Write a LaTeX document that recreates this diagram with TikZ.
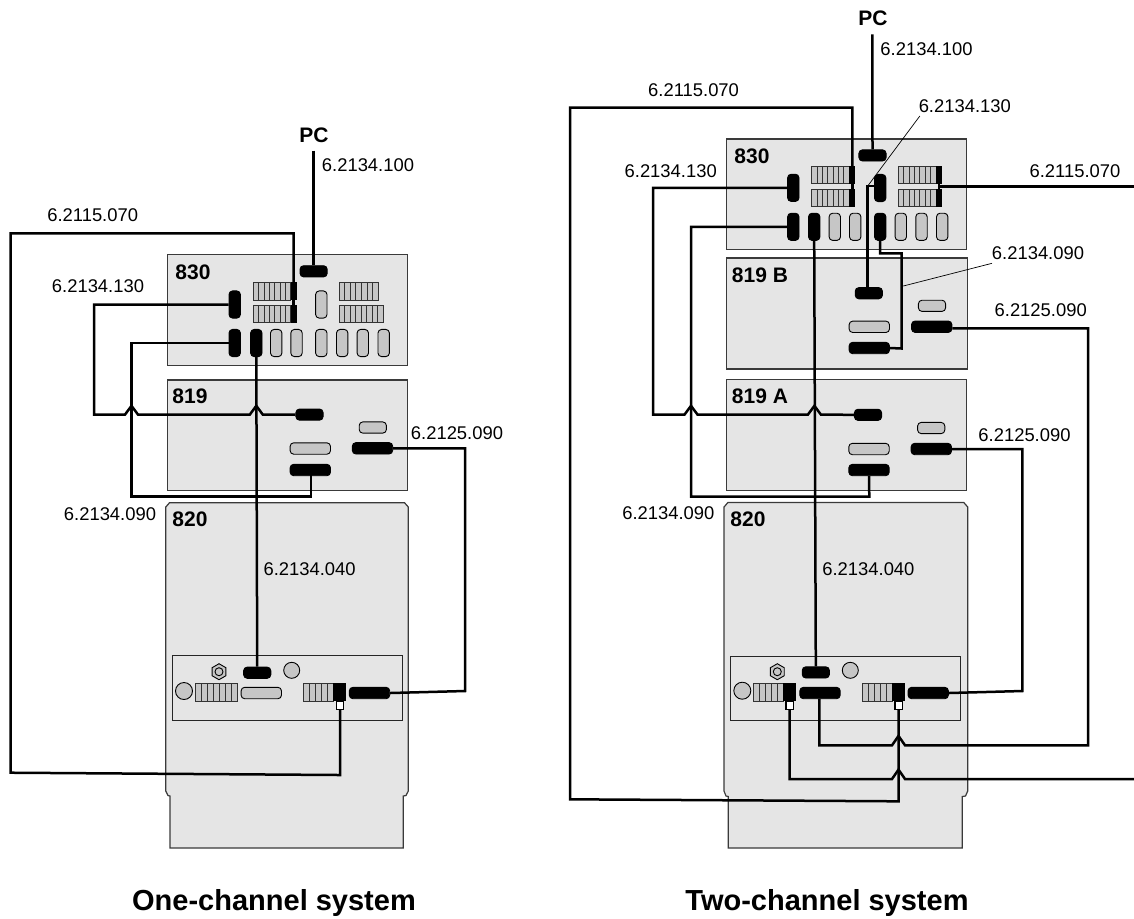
\documentclass[tikz,border=0pt]{standalone}
\usepackage{fontspec}
\setmainfont{Liberation Sans}
\usetikzlibrary{calc,shapes.geometric}
\definecolor{unitgray}{HTML}{E5E5E5}
\definecolor{portgray}{HTML}{C6C6C6}
\definecolor{edgegray}{HTML}{3A3A3A}
\tikzset{
    unitbox/.style={draw=edgegray, line width=0.6pt, fill=unitgray, inner sep=0pt},
    rearpanel/.style={draw=black!85, line width=0.5pt, inner sep=0pt},
    greyport/.style={draw=black, line width=0.45pt, fill=portgray, rounded corners=1.8pt, inner sep=0pt},
    blackport/.style={draw=black, line width=0.45pt, fill=black, rounded corners=1.8pt, inner sep=0pt},
    vport/.style={minimum width=5.7pt, minimum height=13.6pt},
    hport/.style={minimum width=13.6pt, minimum height=5.6pt},
    wport/.style={minimum width=20.2pt, minimum height=5.7pt},
    strip/.style={draw=black!80, line width=0.45pt, fill=portgray, inner sep=0pt, minimum height=8.75pt,
        path picture={
            \foreach \k in {1,...,#1}
                \draw[line width=0.45pt] ($(path picture bounding box.south west)!\k/#1!(path picture bounding box.south east)$)
                    -- ($(path picture bounding box.north west)!\k/#1!(path picture bounding box.north east)$);
        }},
    plug/.style={fill=black, inner sep=0pt, minimum height=8.75pt},
    tailplug/.style={draw=black, line width=0.7pt, fill=white, inner sep=0pt, minimum width=3.6pt, minimum height=4pt},
    knob/.style={circle, draw=black, line width=0.45pt, fill=portgray, inner sep=0pt},
    nut/.style={regular polygon, regular polygon sides=6, shape border rotate=30, draw=black, line width=0.45pt, fill=portgray, inner sep=0pt, minimum size=8pt},
    cable/.style={line width=1.25pt},
    leader/.style={line width=0.35pt},
    partno/.style={inner sep=0pt, font=\fontsize{9.2}{11}\selectfont},
    unitname/.style={inner sep=0pt, font=\fontsize{10.5}{12}\selectfont\bfseries},
    caption/.style={inner sep=0pt, anchor=base, font=\fontsize{14.5}{17}\selectfont\bfseries}
}
\begin{document}
\begin{tikzpicture}[x=0.5pt, y=-0.5pt]
    \useasboundingbox (0,0) rectangle (1134,918);

    % One-channel system: units
    \node[unitbox, minimum width=120.1pt, minimum height=55.5pt] (a830) at (287.6,310.2) {};
    \node[unitbox, minimum width=120.1pt, minimum height=55.4pt] (a819) at (287.6,435.4) {};
    \draw[edgegray, line width=0.6pt, fill=unitgray] (170,848) -- (170,796) -- (168,795.5) -- (165.8,791) -- (165.8,507)
        -- (169.5,502.7) -- (404.5,502.7) -- (408.3,507) -- (408.3,791) -- (406,795.5) -- (403.3,796) -- (403.3,848) -- cycle;
    \node[rearpanel, minimum width=115.1pt, minimum height=32.5pt] (a820) at (287.2,688.2) {};
    \node[unitname] (a830name) at (193,272) {830};
    \node[unitname] (a819name) at (190,396) {819};
    \node[unitname] (a820name) at (190,519) {820};

    % One-channel system: 830
    \node[blackport, hport] (apc) at (313.6,271.3) {};
    \node[strip=7, minimum width=18.7pt] (astrip1) at (272,291.2) {};
    \node[strip=7, minimum width=18.7pt] (astrip2) at (272,314) {};
    \node[strip=7, minimum width=19.3pt] (astrip3) at (358.7,291.2) {};
    \node[strip=8, minimum width=22pt] (astrip4) at (361.3,314) {};
    \node[plug, minimum width=3pt] (aplug1) at (293.7,291.2) {};
    \node[plug, minimum width=3pt] (aplug2) at (293.7,314) {};
    \node[blackport, vport] (av1) at (234.7,304.5) {};
    \node[blackport, vport] (av2) at (234.7,343) {};
    \node[blackport, vport] (av3) at (256.3,343) {};
    \node[greyport, vport] (av4) at (321.3,304.5) {};
    \node[greyport, vport] (av5) at (276.2,343) {};
    \node[greyport, vport] (av6) at (296.5,343) {};
    \node[greyport, vport] (av7) at (321.3,343) {};
    \node[greyport, vport] (av8) at (342.2,343) {};
    \node[greyport, vport] (av9) at (362.8,343) {};
    \node[greyport, vport] (av10) at (383.7,343) {};

    % One-channel system: 819
    \node[blackport, hport] (ah1) at (309.5,414.6) {};
    \node[greyport, hport] (ah2) at (372.8,427.5) {};
    \node[greyport, wport] (aw1) at (310.3,448.5) {};
    \node[blackport, wport] (aw2) at (310.3,470) {};
    \node[blackport, wport] (aw3) at (372.5,448.3) {};

    % One-channel system: 820
    \node[nut] (anut) at (219,671.7) {};
    \node[knob, minimum size=4pt] (anutc) at (219,671.7) {};
    \node[knob, minimum size=8pt] (aknob1) at (291.7,670.3) {};
    \node[knob, minimum size=8.5pt] (aknob2) at (184,691) {};
    \node[strip=7, minimum width=21.1pt, minimum height=9pt] (astrip5) at (216.1,692.5) {};
    \node[strip=5, minimum width=15pt, minimum height=9pt] (astrip6) at (318.3,692.3) {};
    \node[plug, minimum width=6.4pt, minimum height=9pt] (aplug3) at (339.7,692.3) {};
    \node[tailplug] (atail) at (340,705.3) {};
    \node[blackport, hport] (ah3) at (257.2,672.7) {};
    \node[greyport, wport] (aw4) at (261.3,693) {};
    \node[blackport, wport] (aw5) at (369.5,693) {};

    % One-channel system: labels
    \node[partno, font=\fontsize{10.5}{12}\selectfont\bfseries] (apclabel) at (314,135) {PC};
    \node[partno] (alabel1) at (368,165) {6.2134.100};
    \node[partno] (alabel2) at (92.7,215) {6.2115.070};
    \node[partno] (alabel3) at (98,286) {6.2134.130};
    \node[partno] (alabel4) at (457,433) {6.2125.090};
    \node[partno] (alabel5) at (110,514) {6.2134.090};
    \node[partno] (alabel6) at (309.6,569) {6.2134.040};
    \node[caption] (acaption) at (274,910) {One-channel system};

    % One-channel system: cables
    \coordinate (apctop) at (313.6,150.7);
    \draw[cable] (apctop) -- (apc.north);
    \draw[cable] (aplug1.north) -- (293.7,233.3) -- (10.5,233.3) -- (10.5,772.7) -- (340,775) -- (atail.south);
    \draw[cable] (aplug1.south) -- (aplug2.north);
    \draw[cable] (av1.west) -- (94,304.5) -- (94,414.6) -- (125,414.6) -- ++(6.5,-8.8) -- ++(6.5,8.8)
        -- (249.8,414.6) -- ++(6.5,-8.8) -- ++(6.5,8.8) -- (ah1.west);
    \draw[cable] (av2.west) -- (131.5,343) -- (131.5,496.7) -- (311,496.7) -- (311,470);
    \draw[cable] (av3.south) -- (ah3.north);
    \draw[cable] (aw3.east) -- (465,448.3) -- (465,691) -- (aw5.east);

    % Two-channel system: units
    \node[unitbox, minimum width=120.3pt, minimum height=55.4pt] (b830) at (846.4,194.4) {};
    \node[unitbox, minimum width=120.3pt, minimum height=55.5pt] (b819b) at (847,313.5) {};
    \node[unitbox, minimum width=120.3pt, minimum height=55.5pt] (b819a) at (846.4,435.2) {};
    \draw[edgegray, line width=0.6pt, fill=unitgray] (728.3,848) -- (728.3,796.5) -- (726,796) -- (724,791) -- (724,507)
        -- (728,502.4) -- (963.7,502.4) -- (967.7,507) -- (967.7,791) -- (965.5,796) -- (962.3,796.5) -- (962.3,848) -- cycle;
    \node[rearpanel, minimum width=115pt, minimum height=32pt] (b820) at (845.7,688.3) {};
    \node[unitname] (b830name) at (752,156) {830};
    \node[unitname] (b819bname) at (760,275) {819 B};
    \node[unitname] (b819aname) at (760,396) {819 A};
    \node[unitname] (b820name) at (748,519) {820};

    % Two-channel system: 830
    \node[blackport, hport] (bpc) at (872.5,155.4) {};
    \node[strip=7, minimum width=18.8pt] (bstrip1) at (830.5,175) {};
    \node[strip=7, minimum width=18.8pt] (bstrip2) at (830.5,198) {};
    \node[strip=7, minimum width=18.8pt] (bstrip3) at (917.2,175) {};
    \node[strip=7, minimum width=18.8pt] (bstrip4) at (917.2,198) {};
    \node[plug, minimum width=3pt] (bplug1) at (852.3,175) {};
    \node[plug, minimum width=3pt] (bplug2) at (852.3,198) {};
    \node[plug, minimum width=3pt] (bplug3) at (939,175) {};
    \node[plug, minimum width=3pt] (bplug4) at (939,198) {};
    \node[blackport, vport] (bv1) at (793.3,187.8) {};
    \node[blackport, vport] (bv2) at (793.3,226.8) {};
    \node[blackport, vport] (bv3) at (814.2,226.8) {};
    \node[blackport, vport] (bv4) at (880.2,188) {};
    \node[blackport, vport] (bv5) at (880.2,226.8) {};
    \node[greyport, vport] (bv6) at (834.8,226.8) {};
    \node[greyport, vport] (bv7) at (855.2,226.8) {};
    \node[greyport, vport] (bv8) at (900.8,226.8) {};
    \node[greyport, vport] (bv9) at (921.5,226.8) {};
    \node[greyport, vport] (bv10) at (942.2,226.8) {};

    % Two-channel system: 819 B
    \node[blackport, hport] (bh1) at (868.8,293.2) {};
    \node[greyport, hport] (bh2) at (932,305.8) {};
    \node[greyport, wport] (bw1) at (869.3,326.8) {};
    \node[blackport, wport] (bw2) at (869.3,348) {};
    \node[blackport, wport] (bw3) at (931.7,326.7) {};

    % Two-channel system: 819 A
    \node[blackport, hport] (bh3) at (868,414.8) {};
    \node[greyport, hport] (bh4) at (931.2,428) {};
    \node[greyport, wport] (bw4) at (869,449) {};
    \node[blackport, wport] (bw5) at (869,470) {};
    \node[blackport, wport] (bw6) at (931.3,449) {};

    % Two-channel system: 820
    \node[nut] (bnut) at (777.3,671.7) {};
    \node[knob, minimum size=4pt] (bnutc) at (777.3,671.7) {};
    \node[knob, minimum size=8pt] (bknob1) at (850.3,670.3) {};
    \node[knob, minimum size=8.5pt] (bknob2) at (742.3,690.7) {};
    \node[strip=5, minimum width=15pt, minimum height=9pt] (bstrip5) at (768.3,692.3) {};
    \node[plug, minimum width=6.4pt, minimum height=9pt] (bplug5) at (789.7,692.3) {};
    \node[tailplug] (btail1) at (789.7,705.5) {};
    \node[strip=5, minimum width=15pt, minimum height=9pt] (bstrip6) at (877.2,692.3) {};
    \node[plug, minimum width=6.4pt, minimum height=9pt] (bplug6) at (898.5,692.3) {};
    \node[tailplug] (btail2) at (898.6,705.5) {};
    \node[blackport, hport] (bh5) at (815.8,672.4) {};
    \node[blackport, wport] (bw7) at (820,693) {};
    \node[blackport, wport] (bw8) at (928.2,693) {};

    % Two-channel system: labels
    \node[partno, font=\fontsize{10.5}{12}\selectfont\bfseries] (bpclabel) at (873,18.3) {PC};
    \node[partno] (blabel1) at (926.5,49) {6.2134.100};
    \node[partno] (blabel2) at (693.6,90) {6.2115.070};
    \node[partno] (blabel3) at (964.8,106) {6.2134.130};
    \node[partno] (blabel4) at (670.7,171) {6.2134.130};
    \node[partno] (blabel5) at (1075,171) {6.2115.070};
    \node[partno] (blabel6) at (1038,252.7) {6.2134.090};
    \node[partno] (blabel7) at (1040.7,310) {6.2125.090};
    \node[partno] (blabel8) at (1024.5,434.7) {6.2125.090};
    \node[partno] (blabel9) at (668.4,513.3) {6.2134.090};
    \node[partno] (blabel10) at (868.4,569) {6.2134.040};
    \node[caption] (bcaption) at (827,910) {Two-channel system};

    % Two-channel system: cables
    \coordinate (bpctop) at (872.3,34.3);
    \coordinate (bout1) at (1134,186.5);
    \coordinate (bout2) at (1134,779);
    \coordinate (bjoin1) at (867.7,186);
    \coordinate (bjoin2) at ($(bplug3)!0.5!(bplug4)$);
    \coordinate (bleader1) at (919.8,116);
    \coordinate (bleader2) at (903.3,286);
    \coordinate (bleader3) at (992,263.3);
    \draw[cable] (bpctop) -- (bpc.north);
    \draw[cable] (bplug1.north) -- (852.3,107.7) -- (570,107.7) -- (570,799.3) -- (898.5,801.3) -- (btail2.south);
    \draw[cable] (bplug1.south) -- (bplug2.north);
    \draw[cable] (bplug3.south) -- (bplug4.north);
    \draw[cable] (bjoin2) -- (bout1);
    \draw[cable] (bv1.west) -- (653,187.8) -- (653,414.6) -- (684.5,414.6) -- ++(6.5,-8.8) -- ++(6.5,8.8)
        -- (807.9,414.6) -- ++(6.5,-8.8) -- ++(6.5,8.8) -- (bh3.west);
    \draw[cable] (bv2.west) -- (691,226.8) -- (691,496.7) -- (869.3,496.7) -- (bw5.south);
    \draw[cable] (bv3.south) -- (bh5.north);
    \draw[cable] ([yshift=1pt]bv4.west) -- (bjoin1) -- (bh1.north -| bjoin1);
    \draw[cable] (bv5.south) -- (880.2,253.3) -- (901.7,253.3) -- (901.7,348.5) -- (bw2.east);
    \draw[cable] ([yshift=-0.8pt]bw3.east) -- (1088,328.3) -- (1088,745.3) -- (905,745.3) -- ++(-6.5,-9.4) -- ++(-6.5,9.4)
        -- (819.3,745.3) -- (bw7.south -| 819.3,0);
    \draw[cable] (bw6.east) -- (1022.3,449) -- (1022.3,691) -- (bw8.east);
    \draw[cable] (bout2) -- (905,779) -- ++(-6.5,-9.4) -- ++(-6.5,9.4) -- (789.5,779) -- (btail1.south);
    \draw[leader] (bjoin1) -- (bleader1);
    \draw[leader] (bleader2) -- (bleader3);
\end{tikzpicture}
\end{document}
